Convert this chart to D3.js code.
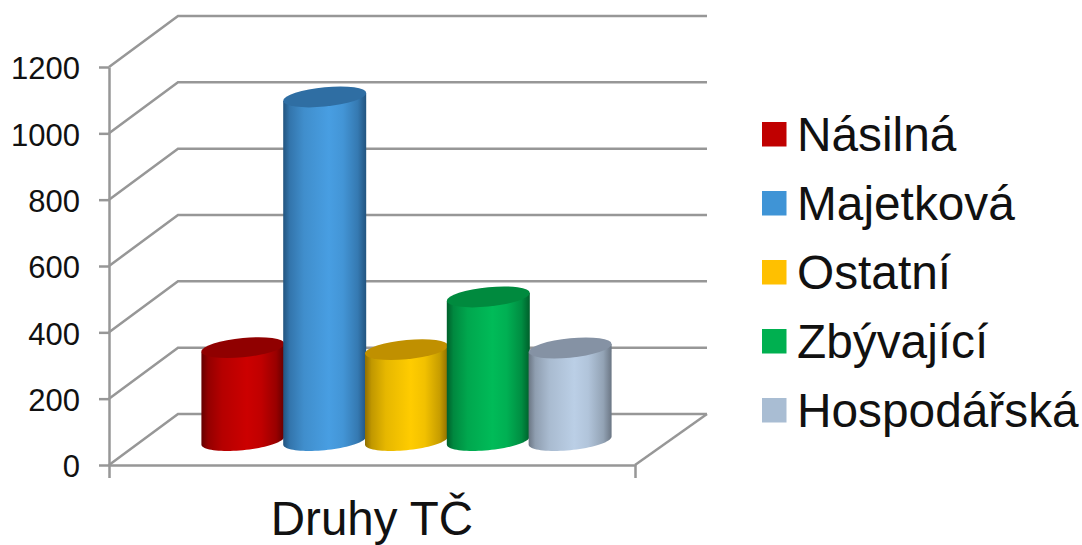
<!doctype html>
<html lang="en">

<head>
    <meta charset="utf-8">
    <title>Druhy TČ</title>
    <script src="https://cdn.jsdelivr.net/npm/d3@7"></script>
    <style>
        html, body { margin: 0; padding: 0; background: #fff; }
        svg { display: block; }
        text { font-family: "Liberation Sans", Arial, sans-serif; fill: #111; }
    </style>
</head>

<body>
    <svg></svg>

    <script>
        var seriesNames = ["Násilná", "Majetková", "Ostatní", "Zbývající", "Hospodářská"];
        var seriesValues = [277, 1033, 271, 430, 276];
        var categories = ["Druhy TČ"];
        var yTicks = [0, 200, 400, 600, 800, 1000, 1200];

        // edge, bright and top colours of each cylinder + legend swatch
        var edgeColors = ["#650000", "#22547f", "#8f6e00", "#005f2b", "#6b7684"];
        var brightColors = ["#cc0000", "#489ee2", "#ffcc00", "#00bb58", "#bbcfe6"];
        var topColors = ["#900000", "#2f6ea3", "#c09000", "#008a3e", "#8592a4"];
        var swatchColors = ["#c00000", "#3f94d6", "#ffc000", "#00b050", "#a9bdd3"];

        var width = 1082;
        var height = 545;
        var axisColor = "#979797";
        var depthX = 69;   // how far the back wall is shifted
        var depthY = 51;

        var svg = d3.select("svg").attr("width", width).attr("height", height);

        var xScale = d3.scaleBand().domain(categories).range([109, 635]);
        var yScale = d3.scaleLinear().domain([0, 1200]).range([465, 67]);
        var barScale = d3.scaleBand().domain(seriesNames).range([202, 611]);

        // gridlines on the side + back wall
        svg.append("g")
            .selectAll("polyline")
            .data(yTicks)
            .enter()
            .append("polyline")
            .attr("points", function (d) {
                var y = yScale(d);
                return [[109, y], [109 + depthX, y - depthY], [635 + 72, y - depthY]].join(" ");
            })
            .attr("fill", "none")
            .attr("stroke", axisColor)
            .attr("stroke-width", 2.5);

        // right edge of the floor
        svg.append("line")
            .attr("x1", 635).attr("y1", yScale(0))
            .attr("x2", 635 + 72).attr("y2", yScale(0) - depthY)
            .attr("stroke", axisColor)
            .attr("stroke-width", 2.5);

        // axes
        var yAxis = d3.axisLeft(yScale).tickValues(yTicks).tickFormat(d3.format("d"))
            .tickSizeInner(10).tickSizeOuter(0).tickPadding(19);
        var xAxis = d3.axisBottom(xScale).tickSizeInner(0).tickSizeOuter(13).tickPadding(36);

        var yG = svg.append("g").attr("transform", "translate(109, 0)").call(yAxis);
        var xG = svg.append("g").attr("transform", "translate(0, 465)").call(xAxis);

        yG.selectAll("text").style("font-size", "31px").attr("dy", "0.38em").attr("font-family", null);
        xG.selectAll("text").style("font-size", "47.5px").attr("font-family", null);
        svg.selectAll(".domain, .tick line").attr("stroke", axisColor).attr("stroke-width", 2.5);

        // gradients for cylinder sides
        var defs = svg.append("defs");
        var sideStops = [[0, 0], [0.08, 0.45], [0.25, 0.78], [0.55, 1], [0.72, 0.88], [0.9, 0.5], [1, 0]];
        seriesNames.forEach(function (name, i) {
            var shade = d3.interpolateRgb(edgeColors[i], brightColors[i]);
            var grad = defs.append("linearGradient").attr("id", "side" + i);
            sideStops.forEach(function (s) {
                grad.append("stop").attr("offset", s[0]).attr("stop-color", shade(s[1]));
            });
        });

        // cylinders: ellipse is sheared so right side sits higher than the left
        var rx = 41.5;
        var ry = 9.7;
        var shear = 4;
        var bars = svg.append("g")
            .selectAll("g")
            .data(seriesNames)
            .enter()
            .append("g")
            .attr("transform", function (d) {
                return "translate(" + (barScale(d) + barScale.bandwidth() / 2) + ", 0)";
            });

        bars.append("path")
            .attr("d", function (d, i) {
                var top = yScale(seriesValues[i]) - depthY / 2;
                var bottom = yScale(0) - depthY / 2 + 1;
                var p = d3.path();
                p.moveTo(-rx, top + shear);
                p.lineTo(-rx, bottom + shear);
                // lower half of the sheared base
                for (var k = 1; k <= 40; k++) {
                    var t = Math.PI - k / 40 * Math.PI;
                    p.lineTo(rx * Math.cos(t), bottom + ry * Math.sin(t) - shear * Math.cos(t));
                }
                p.lineTo(rx, top - shear);
                p.closePath();
                return p.toString();
            })
            .attr("fill", function (d, i) { return "url(#side" + i + ")"; });

        bars.append("ellipse")
            .attr("rx", rx)
            .attr("ry", ry)
            .attr("transform", function (d, i) {
                var top = yScale(seriesValues[i]) - depthY / 2;
                return "translate(0, " + top + ") skewY(" + (Math.atan(-shear / rx) * 180 / Math.PI) + ")";
            })
            .attr("fill", function (d, i) { return topColors[i]; });

        // legend
        var legend = svg.append("g")
            .selectAll("g")
            .data(seriesNames)
            .enter()
            .append("g")
            .attr("transform", function (d, i) { return "translate(762, " + (122 + i * 69) + ")"; });

        legend.append("rect")
            .attr("width", 24.5)
            .attr("height", 24.5)
            .attr("fill", function (d, i) { return swatchColors[i]; });

        legend.append("text")
            .attr("x", 35)
            .attr("y", 29)
            .style("font-size", "47.8px")
            .text(function (d) { return d; });
    </script>

</body>

</html>
